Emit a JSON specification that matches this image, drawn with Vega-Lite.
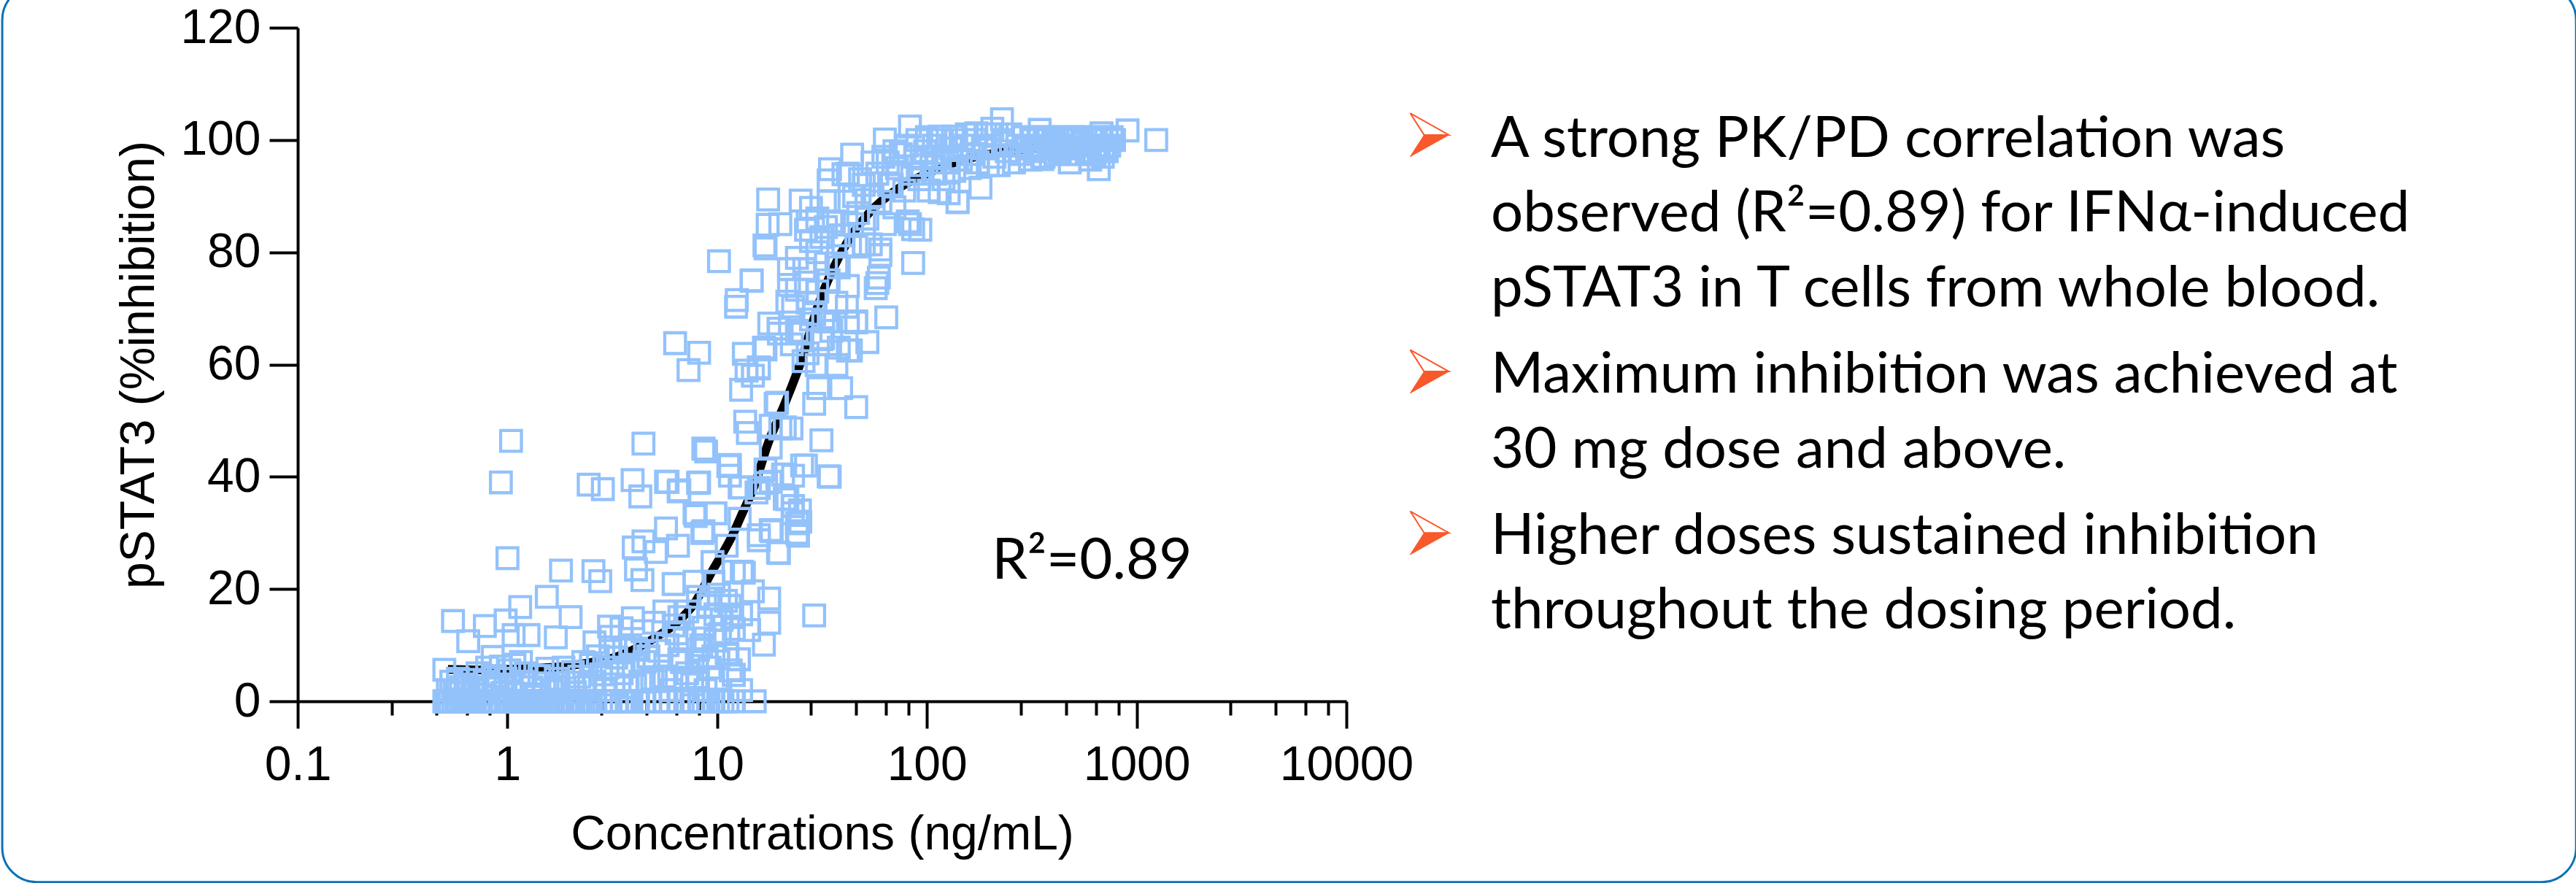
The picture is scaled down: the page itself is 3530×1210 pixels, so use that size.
{"$schema":"https://vega.github.io/schema/vega-lite/v6.json","width":1437,"height":923,"autosize":{"type":"none"},"padding":{"left":408,"top":38,"right":1685,"bottom":249},"background":"white","config":{"view":{"stroke":null},"font":"Liberation Sans","axis":{"grid":false,"domainColor":"black","tickColor":"black","domainWidth":4,"tickWidth":4,"labelColor":"black","titleColor":"black","labelFont":"Liberation Sans","titleFont":"Liberation Sans","labelFontSize":66,"titleFontSize":66,"titleFontWeight":"normal","labelLimit":500,"titleLimit":1400}},
"datasets":{"curve":[{"conc":0.52,"inh":5.7},{"conc":0.8,"inh":5.6},{"conc":1.2,"inh":5.8},{"conc":1.6,"inh":6},{"conc":2.4,"inh":6.8},{"conc":3.3,"inh":7.9},{"conc":4.2,"inh":9.6},{"conc":5.2,"inh":11.6},{"conc":6.5,"inh":14.2},{"conc":7.8,"inh":17.5},{"conc":9.4,"inh":23},{"conc":11.9,"inh":29.8},{"conc":13,"inh":33},{"conc":15,"inh":38.3},{"conc":17.5,"inh":46},{"conc":21,"inh":53},{"conc":24.8,"inh":60},{"conc":30.6,"inh":71},{"conc":35,"inh":76.4},{"conc":42,"inh":82},{"conc":53,"inh":87},{"conc":74,"inh":91.5},{"conc":100,"inh":94},{"conc":150,"inh":96.5},{"conc":250,"inh":98},{"conc":400,"inh":98.8},{"conc":700,"inh":99}],
"points":[
{"conc":0.5,"inh":0},{"conc":0.51,"inh":0},{"conc":0.52,"inh":0},{"conc":0.53,"inh":0},{"conc":0.55,"inh":0},{"conc":0.57,"inh":0},{"conc":0.58,"inh":0},{"conc":0.6,"inh":0},{"conc":0.62,"inh":0},{"conc":0.64,"inh":0},{"conc":0.66,"inh":0},{"conc":0.68,"inh":0},{"conc":0.7,"inh":0},{"conc":0.73,"inh":0},{"conc":0.75,"inh":0},{"conc":0.78,"inh":0},{"conc":0.82,"inh":0},{"conc":0.85,"inh":0},{"conc":0.88,"inh":0},{"conc":0.92,"inh":0},{"conc":1,"inh":0},{"conc":1.03,"inh":0},{"conc":1.08,"inh":0},{"conc":1.12,"inh":0},{"conc":1.18,"inh":0},{"conc":1.22,"inh":0},{"conc":1.28,"inh":0},{"conc":1.33,"inh":0},{"conc":1.4,"inh":0},{"conc":1.45,"inh":0},{"conc":1.5,"inh":0},{"conc":1.58,"inh":0},{"conc":1.65,"inh":0},{"conc":1.72,"inh":0},{"conc":1.8,"inh":0},{"conc":1.9,"inh":0},{"conc":1.95,"inh":0},{"conc":2.05,"inh":0},{"conc":2.15,"inh":0},{"conc":2.2,"inh":0},{"conc":2.3,"inh":0},{"conc":2.4,"inh":0},{"conc":2.5,"inh":0},{"conc":2.6,"inh":0},{"conc":2.8,"inh":0},{"conc":3,"inh":0},{"conc":3.1,"inh":0},{"conc":3.3,"inh":0},{"conc":3.5,"inh":0},{"conc":3.7,"inh":0},{"conc":3.9,"inh":0},{"conc":4.2,"inh":0},{"conc":4.5,"inh":0},{"conc":4.8,"inh":0},{"conc":5.2,"inh":0},{"conc":5.6,"inh":0},{"conc":6,"inh":0},{"conc":6.6,"inh":0},{"conc":7.2,"inh":0},{"conc":7.7,"inh":0},{"conc":8.2,"inh":0},{"conc":8.6,"inh":0},{"conc":9.1,"inh":0},{"conc":9.6,"inh":0},{"conc":10.1,"inh":0},{"conc":10.6,"inh":0},{"conc":11.2,"inh":0},{"conc":11.9,"inh":0},{"conc":15.1,"inh":0},
{"conc":0.5,"inh":5.6},{"conc":0.52,"inh":2},{"conc":0.54,"inh":3.5},{"conc":0.56,"inh":1.5},{"conc":0.58,"inh":4},{"conc":0.6,"inh":2.5},{"conc":0.63,"inh":3},{"conc":0.65,"inh":1.5},{"conc":0.68,"inh":3.8},{"conc":0.7,"inh":2},{"conc":0.72,"inh":5},{"conc":0.75,"inh":1.2},{"conc":0.78,"inh":3.5},{"conc":0.8,"inh":6},{"conc":0.82,"inh":2.5},{"conc":0.85,"inh":7.9},{"conc":0.87,"inh":4.5},{"conc":0.9,"inh":3},{"conc":0.93,"inh":6.2},{"conc":0.95,"inh":1.5},{"conc":0.98,"inh":4},{"conc":1.02,"inh":5.5},{"conc":1.05,"inh":2.8},{"conc":1.08,"inh":6.5},{"conc":1.1,"inh":1.3},{"conc":1.16,"inh":7},{"conc":1.18,"inh":3.5},{"conc":1.22,"inh":5},{"conc":1.3,"inh":2.5},{"conc":1.35,"inh":1.2},{"conc":1.42,"inh":4.5},{"conc":1.5,"inh":3.2},{"conc":1.55,"inh":5.8},{"conc":1.62,"inh":1.8},{"conc":1.7,"inh":4},{"conc":1.75,"inh":2.6},{"conc":1.85,"inh":6},{"conc":1.95,"inh":3.3},{"conc":2.05,"inh":5.2},{"conc":2.1,"inh":1.6},{"conc":2.2,"inh":4.4},{"conc":2.3,"inh":7},{"conc":2.35,"inh":2.5},{"conc":2.5,"inh":6.5},{"conc":2.6,"inh":3.5},{"conc":2.7,"inh":8},{"conc":2.8,"inh":4.8},{"conc":2.9,"inh":2},{"conc":3,"inh":6},{"conc":3.1,"inh":9},{"conc":3.2,"inh":3},{"conc":3.3,"inh":7.8},{"conc":3.5,"inh":5},{"conc":3.6,"inh":9.5},{"conc":3.7,"inh":2.5},{"conc":3.85,"inh":10},{"conc":4,"inh":6.5},{"conc":4.1,"inh":9.2},{"conc":4.3,"inh":3.5},{"conc":4.5,"inh":7},{"conc":4.7,"inh":7.9},{"conc":4.9,"inh":4},{"conc":5.1,"inh":3.6},{"conc":5.3,"inh":9},{"conc":5.6,"inh":4.4},{"conc":5.8,"inh":10},{"conc":6,"inh":2},{"conc":6.4,"inh":4},{"conc":6.6,"inh":7.5},{"conc":6.8,"inh":7},{"conc":7.2,"inh":5},{"conc":7.6,"inh":3},{"conc":8,"inh":7},{"conc":8.1,"inh":4},{"conc":8.4,"inh":10},{"conc":8.8,"inh":2},{"conc":9.2,"inh":6},{"conc":9.6,"inh":8},{"conc":10,"inh":4},{"conc":11.2,"inh":8.3},{"conc":11.6,"inh":5.5},{"conc":12,"inh":4.7},{"conc":12.7,"inh":7.5},{"conc":13,"inh":2},
{"conc":1.04,"inh":46.4},{"conc":4.45,"inh":45.9},{"conc":8.85,"inh":44.5},{"conc":8.6,"inh":45},{"conc":0.93,"inh":39},{"conc":2.44,"inh":38.6},{"conc":2.85,"inh":37.8},{"conc":3.95,"inh":39.4},{"conc":4.3,"inh":36.5},{"conc":5.7,"inh":39.1},{"conc":6.55,"inh":37.4},{"conc":8.2,"inh":39},{"conc":11.3,"inh":41.9},{"conc":12.8,"inh":38.1},{"conc":7.8,"inh":33.5},{"conc":9.8,"inh":33.5},{"conc":12.8,"inh":32.5},{"conc":5.7,"inh":30.8},{"conc":4,"inh":27.4},{"conc":4.45,"inh":28.5},{"conc":5.1,"inh":26.6},{"conc":6.5,"inh":27.7},{"conc":8.5,"inh":30},{"conc":11.1,"inh":27.7},{"conc":15.8,"inh":28.7},{"conc":19.7,"inh":26.4},{"conc":18,"inh":30.5},{"conc":24.3,"inh":29.5},{"conc":24.9,"inh":32},{"conc":23,"inh":34.8},{"conc":21.6,"inh":36},{"conc":25.4,"inh":42},{"conc":34,"inh":40.1},{"conc":20.6,"inh":40.4},{"conc":17.1,"inh":38.9},{"conc":15.8,"inh":38},
{"conc":1,"inh":25.5},{"conc":1.8,"inh":23.3},{"conc":2.57,"inh":23.2},{"conc":2.77,"inh":21.4},{"conc":1.54,"inh":18.6},{"conc":1.15,"inh":16.8},{"conc":0.55,"inh":14.3},{"conc":0.78,"inh":13.4},{"conc":0.98,"inh":14.4},{"conc":0.65,"inh":10.7},{"conc":1.07,"inh":11.8},{"conc":1.26,"inh":11.8},{"conc":1.7,"inh":11.4},{"conc":2,"inh":15},{"conc":3.05,"inh":13.3},{"conc":3.96,"inh":14.8},{"conc":4.1,"inh":23.5},{"conc":4.4,"inh":21.6},
{"conc":29,"inh":15.3},{"conc":17.7,"inh":18.3},{"conc":14.8,"inh":19.6},{"conc":13.1,"inh":23.1},{"conc":12,"inh":23.1},{"conc":17.7,"inh":14},{"conc":16.7,"inh":10.1},{"conc":12.7,"inh":7.5},{"conc":12,"inh":4.7},{"conc":19.5,"inh":26.5},{"conc":15.8,"inh":29.6},{"conc":18.2,"inh":30.3},{"conc":24,"inh":30},{"conc":24,"inh":31.7},{"conc":8.6,"inh":30.3},{"conc":6.2,"inh":20.9},{"conc":7.8,"inh":21.3},{"conc":9.5,"inh":24.8},{"conc":9.6,"inh":21.3},{"conc":13.4,"inh":22.9},{"conc":8.1,"inh":18.6},{"conc":9.3,"inh":18.3},{"conc":11,"inh":17.9},{"conc":11.5,"inh":17},{"conc":8.6,"inh":13.1},{"conc":12,"inh":12.9},{"conc":14.2,"inh":12.7},{"conc":6.4,"inh":12.1},{"conc":6.2,"inh":13.5},{"conc":8.1,"inh":9.2},{"conc":11.1,"inh":8.6},{"conc":6.8,"inh":7},{"conc":8,"inh":7.2},{"conc":5.6,"inh":4.4},{"conc":4.7,"inh":3.6},{"conc":6.4,"inh":4.2},{"conc":8.1,"inh":4.3},{"conc":4.1,"inh":9.4},{"conc":4.7,"inh":8},{"conc":10.5,"inh":14.5},{"conc":9.8,"inh":15.5},{"conc":9.1,"inh":17},{"conc":10.2,"inh":19},{"conc":7.2,"inh":16},{"conc":6.6,"inh":15},{"conc":5.6,"inh":16},{"conc":5,"inh":14},{"conc":4.4,"inh":12.5},{"conc":3.5,"inh":13},{"conc":3.1,"inh":11.5},{"conc":2.6,"inh":10.5},{"conc":7,"inh":11},{"conc":8.7,"inh":11.2},{"conc":9.8,"inh":10.8},{"conc":10.3,"inh":12},{"conc":11.8,"inh":15},{"conc":13,"inh":15.5},
{"conc":6.3,"inh":63.8},{"conc":8.2,"inh":62.1},{"conc":7.3,"inh":59},{"conc":13.4,"inh":61.9},{"conc":17,"inh":62.7},{"conc":13.8,"inh":58.9},{"conc":15.8,"inh":59.3},{"conc":14.8,"inh":58},{"conc":13,"inh":55.5},{"conc":19,"inh":53},{"conc":19.3,"inh":53.2},{"conc":29,"inh":53},{"conc":30.3,"inh":55.8},{"conc":39,"inh":55.8},{"conc":46,"inh":52.4},{"conc":31.4,"inh":46.5},{"conc":13.6,"inh":49.8},{"conc":14,"inh":47.8},{"conc":18,"inh":49.1},{"conc":20,"inh":48.6},{"conc":21,"inh":48.8},{"conc":22.6,"inh":48.6},{"conc":18,"inh":45.2},{"conc":8.6,"inh":45},{"conc":11.5,"inh":42.1},{"conc":11.5,"inh":40.2},{"conc":5.8,"inh":39.1},{"conc":6.6,"inh":37.6},{"conc":8.1,"inh":38.9},{"conc":13,"inh":38.1},{"conc":15.4,"inh":37.2},{"conc":17,"inh":41.3},{"conc":18,"inh":39.1},{"conc":23,"inh":40.2},{"conc":26.5,"inh":42},{"conc":34.4,"inh":40},{"conc":7.9,"inh":33},{"conc":9.8,"inh":33.5},{"conc":21,"inh":36.1},{"conc":22.9,"inh":34.8},{"conc":22.9,"inh":33.5},{"conc":24.8,"inh":34},{"conc":25.8,"inh":60.6},{"conc":29.8,"inh":59.9},{"conc":37,"inh":59.9},{"conc":43.4,"inh":62.5},{"conc":42,"inh":67.7},{"conc":46,"inh":67.7},{"conc":32,"inh":67.7},{"conc":17.7,"inh":67.3},{"conc":19.7,"inh":65.5},{"conc":22.7,"inh":63.6},{"conc":31.4,"inh":64.5},{"conc":25.5,"inh":65.5},{"conc":12.3,"inh":70.3},{"conc":27,"inh":62},{"conc":24,"inh":66},{"conc":28,"inh":68},{"conc":35,"inh":66},{"conc":38,"inh":63},
{"conc":17.5,"inh":89.4},{"conc":17.4,"inh":84.9},{"conc":20,"inh":85},{"conc":17,"inh":80.7},{"conc":16.8,"inh":81.2},{"conc":14.6,"inh":75},{"conc":22,"inh":77},{"conc":26,"inh":77},{"conc":25,"inh":89.2},{"conc":28,"inh":87.9},{"conc":27,"inh":85.5},{"conc":26.5,"inh":84},{"conc":31.4,"inh":82.7},{"conc":34,"inh":89},{"conc":41,"inh":89},{"conc":34,"inh":92.8},{"conc":42,"inh":94},{"conc":48,"inh":93},{"conc":37,"inh":78},{"conc":38,"inh":77.3},{"conc":42,"inh":74},{"conc":41.5,"inh":70.3},{"conc":64,"inh":68.4},{"conc":46,"inh":67.5},{"conc":34,"inh":67.7},{"conc":52,"inh":64},{"conc":42,"inh":62.5},{"conc":57,"inh":73.6},{"conc":58,"inh":74.5},{"conc":59,"inh":75.5},{"conc":60,"inh":80.5},{"conc":60,"inh":79.5},{"conc":86,"inh":78.1},{"conc":93,"inh":84},{"conc":83,"inh":85},{"conc":81,"inh":85.5},{"conc":86,"inh":84.1},{"conc":50,"inh":81.4},{"conc":54,"inh":81.4},{"conc":46,"inh":81},{"conc":40,"inh":81.2},{"conc":22,"inh":74.2},{"conc":24,"inh":73.3},{"conc":26.5,"inh":74.6},{"conc":21.6,"inh":71.2},{"conc":23,"inh":70.3},{"conc":19.6,"inh":66.4},{"conc":16.7,"inh":63},{"conc":15.8,"inh":59.5},{"conc":32,"inh":64.7},{"conc":10.2,"inh":78.4},{"conc":14.6,"inh":74.9},{"conc":12.4,"inh":71.5},{"conc":30,"inh":86},{"conc":33,"inh":84.5},{"conc":36,"inh":85.5},{"conc":38,"inh":83},{"conc":44,"inh":85},{"conc":47,"inh":87},{"conc":52,"inh":86},{"conc":55,"inh":90},{"conc":60,"inh":89},{"conc":63,"inh":85},{"conc":66,"inh":92},{"conc":70,"inh":88},{"conc":28,"inh":82},{"conc":30,"inh":80},{"conc":33,"inh":78},{"conc":24,"inh":79},{"conc":27,"inh":71},{"conc":30,"inh":73},{"conc":34,"inh":75},{"conc":29,"inh":69},{"conc":37,"inh":71},{"conc":40,"inh":83},{"conc":45,"inh":90},{"conc":50,"inh":92},
{"conc":44,"inh":97.4},{"conc":34.5,"inh":94.8},{"conc":40,"inh":93.9},{"conc":63,"inh":100.1},{"conc":83,"inh":102.4},{"conc":228,"inh":103.7},{"conc":205,"inh":102},{"conc":345,"inh":101.8},{"conc":905,"inh":101.7},{"conc":1240,"inh":100},{"conc":660,"inh":94.8},{"conc":480,"inh":96},{"conc":355,"inh":96.6},{"conc":180,"inh":91.5},{"conc":115,"inh":100.6},{"conc":133,"inh":100.6},{"conc":172,"inh":101.2},{"conc":500,"inh":100.5},{"conc":680,"inh":101.2},{"conc":115,"inh":90.7},{"conc":127,"inh":90.5},{"conc":140,"inh":89},{"conc":140,"inh":88.9},{"conc":780,"inh":100},{"conc":720,"inh":98},{"conc":690,"inh":97},{"conc":740,"inh":99},
{"conc":55,"inh":96},{"conc":58,"inh":94},{"conc":62,"inh":97},{"conc":65,"inh":96},{"conc":68,"inh":92},{"conc":70,"inh":98},{"conc":72,"inh":95},{"conc":75,"inh":97.5},{"conc":78,"inh":91},{"conc":80,"inh":99},{"conc":85,"inh":94},{"conc":88,"inh":97},{"conc":90,"inh":100},{"conc":92,"inh":93},{"conc":95,"inh":95.5},{"conc":98,"inh":98},{"conc":100,"inh":100.5},{"conc":102,"inh":91},{"conc":105,"inh":96},{"conc":108,"inh":99},{"conc":110,"inh":94},{"conc":112,"inh":97},{"conc":118,"inh":100},{"conc":120,"inh":93},{"conc":125,"inh":96},{"conc":130,"inh":98.5},{"conc":135,"inh":94.5},{"conc":138,"inh":100},{"conc":145,"inh":96.5},{"conc":150,"inh":99},{"conc":155,"inh":101},{"conc":160,"inh":95},{"conc":165,"inh":97.5},{"conc":170,"inh":100},{"conc":175,"inh":96},{"conc":185,"inh":98.5},{"conc":190,"inh":101},{"conc":195,"inh":95.5},{"conc":200,"inh":99},{"conc":210,"inh":97},{"conc":215,"inh":101},{"conc":220,"inh":95.5},{"conc":230,"inh":99.5},{"conc":240,"inh":98},{"conc":250,"inh":101},{"conc":260,"inh":96},{"conc":270,"inh":99},{"conc":280,"inh":97.5},{"conc":290,"inh":100.5},{"conc":300,"inh":98.5},{"conc":310,"inh":96.5},{"conc":320,"inh":100},{"conc":330,"inh":98},{"conc":340,"inh":100.5},{"conc":350,"inh":99},{"conc":360,"inh":97},{"conc":370,"inh":100},{"conc":380,"inh":100.5},{"conc":390,"inh":98.5},{"conc":400,"inh":99.5},{"conc":410,"inh":97.5},{"conc":420,"inh":100},{"conc":430,"inh":98},{"conc":440,"inh":100.5},{"conc":450,"inh":99},{"conc":460,"inh":97.5},{"conc":470,"inh":100},{"conc":490,"inh":98.5},{"conc":510,"inh":100},{"conc":530,"inh":97.5},{"conc":550,"inh":99.5},{"conc":570,"inh":100.5},{"conc":590,"inh":98},{"conc":610,"inh":100},{"conc":630,"inh":97.5},{"conc":650,"inh":99},{"conc":670,"inh":100.5},{"conc":700,"inh":98.5},{"conc":760,"inh":100.5},{"conc":600,"inh":96.5},{"conc":640,"inh":100},{"conc":660,"inh":98.5}
]},
"layer":[
{"data":{"name":"curve"},"mark":{"type":"line","color":"black","strokeWidth":12,"interpolate":"monotone"},"encoding":{"x":{"field":"conc","type":"quantitative","scale":{"type":"log","domain":[0.1,10000],"nice":false},"axis":{"orient":"bottom","values":[0.1,1,10,100,1000,10000],"labelExpr":"''+datum.value","tickSize":37,"labelPadding":18,"title":"Concentrations (ng/mL)","titlePadding":30,"labelFlush":false,"labelOverlap":false,"labelBound":false}},"y":{"field":"inh","type":"quantitative","scale":{"domain":[0,120],"nice":false},"axis":{"orient":"left","values":[0,20,40,60,80,100,120],"tickSize":39,"labelPadding":12,"title":"pSTAT3 (%inhibition)","titlePadding":22}}}},
{"data":{"name":"points"},"mark":{"type":"point","shape":"square","size":812,"filled":false,"stroke":"#93C2FB","strokeWidth":4.3,"opacity":1},"encoding":{"x":{"field":"conc","type":"quantitative","scale":{"type":"log","domain":[0.1,10000],"nice":false},"axis":{"orient":"bottom","values":[0.28,0.46,0.64,0.82,2.8,4.6,6.4,8.2,28,46,64,82,280,460,640,820,2800,4600,6400,8200],"labels":false,"domain":false,"tickSize":19,"title":null}},"y":{"field":"inh","type":"quantitative","scale":{"domain":[0,120],"nice":false},"axis":null}}},
{"data":{"values":[{"conc":24920,"inh":100.9},{"conc":24920,"inh":58.76},{"conc":24920,"inh":30}]},"mark":{"type":"point","shape":"M-0.14 0 L0.5 0 L-0.5 0.56 Z","size":11236,"filled":true,"fill":"#F9582B","stroke":"#F9582B","strokeWidth":1,"opacity":1},"encoding":{"x":{"field":"conc","type":"quantitative","scale":{"type":"log","domain":[0.1,10000],"nice":false},"axis":null},"y":{"field":"inh","type":"quantitative","scale":{"domain":[0,120],"nice":false},"axis":null}}},
{"data":{"values":[{"conc":24920,"inh":100.9},{"conc":24920,"inh":58.76},{"conc":24920,"inh":30}]},"mark":{"type":"point","shape":"M-0.14 0 L0.5 0 L-0.5 -0.56 Z","size":11236,"filled":true,"fill":"white","stroke":"#F9582B","strokeWidth":2,"opacity":1},"encoding":{"x":{"field":"conc","type":"quantitative","scale":{"type":"log","domain":[0.1,10000],"nice":false},"axis":null},"y":{"field":"inh","type":"quantitative","scale":{"domain":[0,120],"nice":false},"axis":null}}},
{"data":{"values":[{"conc":204,"inh":21.84,"label":"R²=0.89"},{"conc":48870,"inh":96.93,"label":"A strong PK/PD correlation was"},{"conc":48870,"inh":83.67,"label":"observed (R²=0.89) for IFNα-induced"},{"conc":48870,"inh":70.4,"label":"pSTAT3 in T cells from whole blood."},{"conc":48870,"inh":54.94,"label":"Maximum inhibition was achieved at"},{"conc":48870,"inh":41.55,"label":"30 mg dose and above."},{"conc":48870,"inh":26.29,"label":"Higher doses sustained inhibition"},{"conc":48870,"inh":13.03,"label":"throughout the dosing period."}]},"mark":{"type":"text","font":"Lato","fontSize":78,"align":"left","baseline":"alphabetic","color":"black"},"encoding":{"x":{"field":"conc","type":"quantitative","scale":{"type":"log","domain":[0.1,10000],"nice":false},"axis":null},"y":{"field":"inh","type":"quantitative","scale":{"domain":[0,120],"nice":false},"axis":null},"text":{"field":"label"}}},
{"data":{"values":[{"left":0.0039,"right":7300000000,"top":127.5,"bottom":-32.2}]},"mark":{"type":"rect","fill":"transparent","stroke":"#0B72B5","strokeWidth":3,"cornerRadius":47},"encoding":{"x":{"field":"left","type":"quantitative","scale":{"type":"log","domain":[0.1,10000],"nice":false},"axis":null},"x2":{"field":"right"},"y":{"field":"top","type":"quantitative","scale":{"domain":[0,120],"nice":false},"axis":null},"y2":{"field":"bottom"}}}
],
"resolve":{"axis":{"x":"independent","y":"independent"}}}
